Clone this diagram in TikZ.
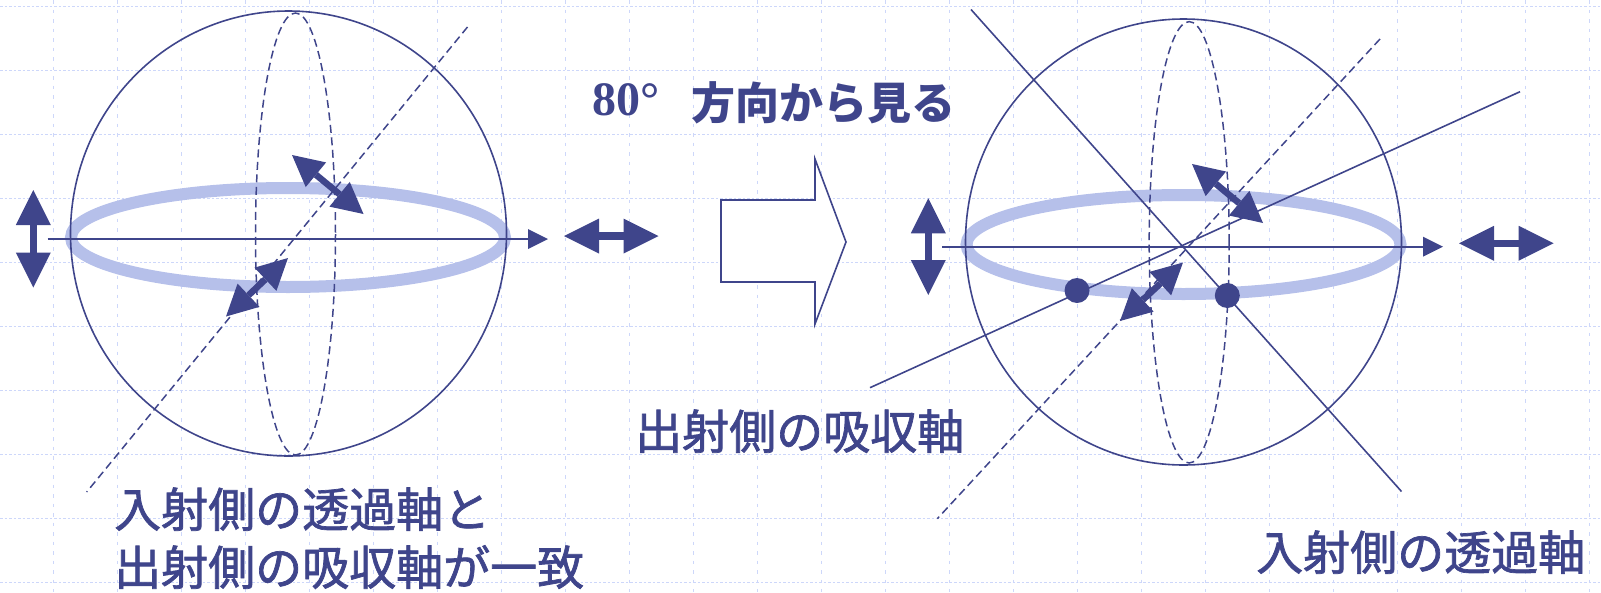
\documentclass[tikz,border=0pt]{standalone}
\usepackage{fontspec}
\usetikzlibrary{arrows.meta}
\newfontfamily\jpfont{Noto Sans CJK JP}[FakeBold=1.5]
\newfontfamily\jptitle{Noto Sans CJK JP}
\newfontfamily\numfont{Liberation Serif}
\definecolor{ink}{RGB}{63,69,139}
\definecolor{ringblue}{RGB}{182,192,234}
\definecolor{gridblue}{RGB}{205,215,250}

\begin{document}
\begin{tikzpicture}[x=1pt,y=-1pt,
  gridh/.style={gridblue, line width=1.5pt, dash pattern=on 2.5pt off 2pt},
  gridv/.style={gridblue, line width=1.5pt, dash pattern=on 3.5pt off 6pt},
  outline/.style={ink, line width=1.6pt},
  dashline/.style={ink, line width=1.5pt, dash pattern=on 8pt off 4.5pt},
  ring/.style={ringblue, line width=12pt},
  axisarrow/.style={ink, line width=1.6pt, -{Triangle[length=20pt,width=20pt,line width=0pt]}},
  smalldbl/.style={ink, line width=7.5pt,
    {Triangle[length=35pt,width=35pt,line width=0pt]}-{Triangle[length=35pt,width=35pt,line width=0pt]}},
  poldbl/.style={ink, line width=6.5pt,
    {Triangle[length=31pt,width=32pt,line width=0pt]}-{Triangle[length=31pt,width=32pt,line width=0pt]}},
  label/.style={ink, inner sep=0pt, anchor=base west, font=\jpfont\fontsize{47}{56}\selectfont},
]
\useasboundingbox (0,0) rectangle (1601,592);

% background grid
\foreach \k in {0,...,24} \draw[gridv] ({53.6+64*\k},0) -- ({53.6+64*\k},592);
\foreach \k in {0,...,9} \draw[gridh] (0,{6.7+64*\k}) -- (1601,{6.7+64*\k});

% ---------- left sphere ----------
\coordinate (Lc) at (288.5,233.5);
\draw[ring] (288,237.5) ellipse[x radius=217, y radius=49.5];
\coordinate (La1) at (292,155);   \coordinate (La2) at (363.5,214);
\coordinate (Lb1) at (288,258);   \coordinate (Lb2) at (226,316.5);
\draw[poldbl] (La1) -- (La2);
\draw[poldbl] (Lb1) -- (Lb2);
\draw[outline] (Lc) ellipse[x radius=218, y radius=222.5];
\draw[dashline] (295.5,234) ellipse[x radius=40, y radius=221];
\coordinate (Ld1) at (467.5,27);  \coordinate (Ld2) at (86.7,492);
\draw[dashline] (Ld1) -- (Ld2);
\coordinate (Lx1) at (47.5,239);  \coordinate (Lx2) at (548,239);
\draw[axisarrow] (Lx1) -- (Lx2);
\coordinate (Lv1) at (33.3,190);  \coordinate (Lv2) at (33.3,287.5);
\draw[smalldbl] (Lv1) -- (Lv2);
\coordinate (Lh1) at (564,236);   \coordinate (Lh2) at (658.5,236);
\draw[smalldbl] (Lh1) -- (Lh2);

% ---------- viewing arrow ----------
\draw[outline, fill=white] (721,200) -- (815,200) -- (815,159) -- (846,242)
  -- (815,324) -- (815,282) -- (721,282) -- cycle;
\node[ink, inner sep=0pt, anchor=base west, font=\numfont\bfseries\fontsize{48}{56}\selectfont]
  (deg) at (592,115.7) {80°};
\node[ink, inner sep=0pt, anchor=base west, font=\jptitle\bfseries\fontsize{44}{52}\selectfont]
  (view) at (691,119) {方向から見る};

% ---------- right sphere ----------
\coordinate (Rc) at (1183.5,242);
\draw[ring] (1183.5,244.5) ellipse[x radius=217, y radius=49.5];
\coordinate (Ra1) at (1192,164);   \coordinate (Ra2) at (1263,223);
\coordinate (Rb1) at (1183,262.5); \coordinate (Rb2) at (1120,321);
\draw[poldbl] (Ra1) -- (Ra2);
\draw[poldbl] (Rb1) -- (Rb2);
\draw[outline] (Rc) ellipse[x radius=218, y radius=223];
\draw[dashline] (1189.2,242.3) ellipse[x radius=40, y radius=220.7];
\coordinate (Rd1) at (1380,39);    \coordinate (Rd2) at (937.3,518.7);
\draw[dashline] (Rd1) -- (Rd2);
\coordinate (Rs1) at (971,9.5);    \coordinate (Rs2) at (1401.5,491.5);
\draw[outline] (Rs1) -- (Rs2);
\coordinate (Rt1) at (870,387.7);  \coordinate (Rt2) at (1520,91.7);
\draw[outline] (Rt1) -- (Rt2);
\coordinate (Rx1) at (942,246.7);  \coordinate (Rx2) at (1443,246.7);
\draw[axisarrow] (Rx1) -- (Rx2);
\coordinate (Rv1) at (928.3,198.3); \coordinate (Rv2) at (928.3,295);
\draw[smalldbl] (Rv1) -- (Rv2);
\coordinate (Rh1) at (1459,243.3); \coordinate (Rh2) at (1553.6,243.3);
\draw[smalldbl] (Rh1) -- (Rh2);
\fill[ink] (1077,290.5) circle[radius=12.5];
\fill[ink] (1227.3,295.5) circle[radius=12.5];

% ---------- captions ----------
\node[label] (absorb) at (635,449) {出射側の吸収軸};
\node[label] (matchA) at (114,527) {入射側の透過軸と};
\node[label] (matchB) at (114,585) {出射側の吸収軸が一致};
\node[label] (trans) at (1256,570) {入射側の透過軸};
\end{tikzpicture}
\end{document}
